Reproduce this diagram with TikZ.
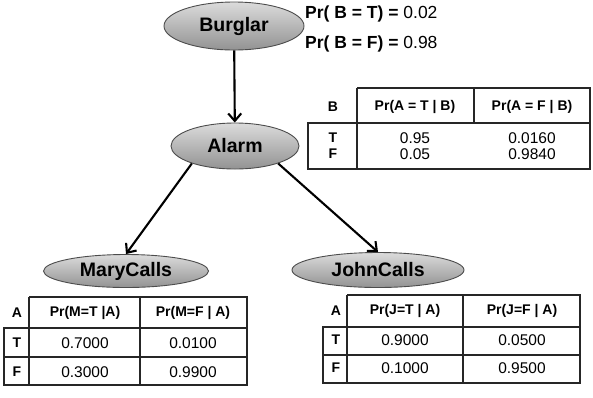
\documentclass[tikz,border=0pt]{standalone}
\usepackage{fontspec}
\setmainfont{Liberation Sans}
\usetikzlibrary{shapes.geometric,arrows.meta}

\begin{document}
\begin{tikzpicture}[x=1pt,y=-1pt,
  bn/.style={ellipse, draw=black!70, line width=0.9pt,
    top color=gray!28, bottom color=gray!85, inner sep=0pt,
    font=\fontsize{19.5}{21}\selectfont\bfseries},
  link/.style={line width=2.1pt,
    -{Straight Barb[length=7.5pt,width=13pt,line width=2.1pt]}},
  grid/.style={line width=1.4pt, black!85},
  hd/.style={font=\fontsize{14}{16}\selectfont\bfseries, inner sep=0pt},
  val/.style={font=\fontsize{15.5}{17}\selectfont, inner sep=0pt},
  prior/.style={anchor=base west, inner sep=0pt,
    font=\fontsize{17.5}{19}\selectfont}]

\useasboundingbox (0,0) rectangle (593,397);

% network nodes
\node[bn, minimum width=140pt, minimum height=48pt] (burglar) at (234,26) {Burglar};
\node[bn, minimum width=128pt, minimum height=46pt] (alarm) at (235,146) {Alarm};
\node[bn, minimum width=165pt, minimum height=33pt] (mary) at (126,271) {MaryCalls};
\node[bn, minimum width=172pt, minimum height=35pt] (john) at (378,270) {JohnCalls};

% dependencies
\draw[link] (burglar) -- (alarm);
\draw[link] (alarm.202) -- (mary.north);
\draw[link] (alarm.338) -- (john.north);

% prior of Burglar
\node[prior] (pbt) at (305,18) {\textbf{Pr( B = T) =} 0.02};
\node[prior] (pbf) at (305,48) {\textbf{Pr( B = F) =} 0.98};

% CPT of Alarm
\draw[grid] (357,88) -- (590,88) -- (590,169) -- (308,169) -- (308,123) -- (590,123);
\draw[grid] (357,88) -- (357,169);
\draw[grid] (474,88) -- (474,123);
\node[hd] (ab) at (333,107) {B};
\node[hd] (aht) at (415,107) {Pr(A = T | B)};
\node[hd] (ahf) at (532,107) {Pr(A = F | B)};
\node[hd] (art) at (333,138) {T};
\node[hd] (arf) at (333,154) {F};
\node[val] (a1) at (415,138) {0.95};
\node[val] (a2) at (415,154) {0.05};
\node[val] (a3) at (532,138) {0.0160};
\node[val] (a4) at (532,154) {0.9840};

% CPT of MaryCalls
\draw[grid] (29,297) -- (247,297) -- (247,385) -- (4,385) -- (4,328) -- (247,328);
\draw[grid] (4,357) -- (247,357);
\draw[grid] (29,297) -- (29,385);
\draw[grid] (140,297) -- (140,385);
\node[hd] (ma) at (17,313) {A};
\node[hd] (mht) at (85,313) {Pr(M=T |A)};
\node[hd] (mhf) at (193,313) {Pr(M=F | A)};
\node[hd] (mrt) at (17,343) {T};
\node[hd] (mrf) at (17,372) {F};
\node[val] (m1) at (85,343) {0.7000};
\node[val] (m2) at (85,372) {0.3000};
\node[val] (m3) at (193,343) {0.0100};
\node[val] (m4) at (193,372) {0.9900};

% CPT of JohnCalls
\draw[grid] (347,295) -- (580,295) -- (580,383) -- (323,383) -- (323,327) -- (580,327);
\draw[grid] (323,355) -- (580,355);
\draw[grid] (347,295) -- (347,383);
\draw[grid] (463,295) -- (463,383);
\node[hd] (ja) at (336,311) {A};
\node[hd] (jht) at (405,311) {Pr(J=T | A)};
\node[hd] (jhf) at (522,311) {Pr(J=F | A)};
\node[hd] (jrt) at (336,340) {T};
\node[hd] (jrf) at (336,368) {F};
\node[val] (j1) at (405,340) {0.9000};
\node[val] (j2) at (405,368) {0.1000};
\node[val] (j3) at (522,340) {0.0500};
\node[val] (j4) at (522,368) {0.9500};

\end{tikzpicture}
\end{document}
